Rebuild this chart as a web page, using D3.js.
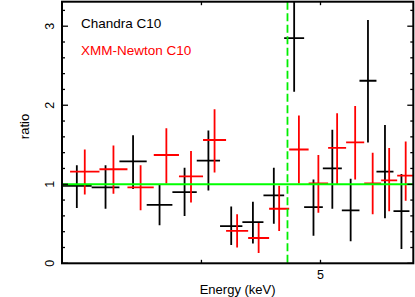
<!DOCTYPE html>
<html>
<head>
<meta charset="utf-8">
<script src="https://cdn.jsdelivr.net/npm/d3@7"></script>
<style>
  body { margin: 0; background: #fff; }
  svg { display: block; font-family: "Liberation Sans", Arial, sans-serif; }
</style>
</head>
<body>
<script>
// bins: [energy low, energy high, ratio, ratio err low, ratio err high]
const chandraBins = [
  [3.08, 3.256, 0.98, 0.70, 1.24],
  [3.256, 3.430, 0.96, 0.69, 1.24],
  [3.430, 3.610, 1.29, 0.94, 1.62],
  [3.610, 3.788, 0.74, 0.48, 1.00],
  [3.788, 3.965, 0.90, 0.60, 1.21],
  [3.965, 4.142, 1.30, 0.92, 1.68],
  [4.142, 4.319, 0.47, 0.23, 0.72],
  [4.319, 4.493, 0.52, 0.25, 0.78],
  [4.493, 4.671, 0.86, 0.50, 1.21],
  [4.671, 4.849, 2.85, 2.17, 3.60],
  [4.849, 5.022, 0.71, 0.35, 1.06],
  [5.022, 5.204, 1.20, 0.69, 1.69],
  [5.204, 5.379, 0.67, 0.28, 1.07],
  [5.379, 5.553, 2.31, 1.53, 3.08],
  [5.553, 5.733, 1.16, 0.57, 1.75],
  [5.733, 5.907, 0.66, 0.18, 1.13]
];
const xmmBins = [
  [3.127, 3.304, 1.16, 0.87, 1.44],
  [3.304, 3.482, 1.19, 0.88, 1.49],
  [3.482, 3.658, 0.96, 0.67, 1.24],
  [3.658, 3.835, 1.37, 1.01, 1.71],
  [3.835, 4.012, 1.10, 0.77, 1.42],
  [4.012, 4.189, 1.56, 1.15, 1.95],
  [4.189, 4.366, 0.41, 0.20, 0.62],
  [4.366, 4.541, 0.32, 0.13, 0.51],
  [4.541, 4.715, 0.69, 0.41, 0.98],
  [4.715, 4.890, 1.44, 1.01, 1.87],
  [4.890, 5.072, 1.01, 0.64, 1.37],
  [5.072, 5.246, 1.46, 1.00, 1.90],
  [5.246, 5.427, 1.53, 1.06, 1.99],
  [5.427, 5.602, 1.01, 0.62, 1.40],
  [5.602, 5.773, 1.05, 0.66, 1.46],
  [5.773, 5.96, 1.11, 0.79, 1.54]
];
const seriesNames = ["Chandra C10", "XMM-Newton C10"];
const seriesColors = ["#000000", "#ff0000"];
const xTicks = [4, 5];
const xTickLabels = ["", "5"];
const yTicks = [0, 1, 2, 3];
const lineEnergy = 4.7;
const refRatio = 1;

const W = 415, H = 297;
const m = {left: 62, right: 1.7, top: 1.7, bottom: 33.7};
const w = W - m.left - m.right, h = H - m.top - m.bottom;

const x = d3.scaleLog().domain([3.08, 5.95]).range([0, w]);
const y = d3.scaleLinear().domain([0, 3.31]).range([h, 0]);

const svg = d3.select("body").append("svg")
  .attr("width", W).attr("height", H);
const g = svg.append("g").attr("transform", "translate(" + m.left + "," + m.top + ")");

g.append("clipPath").attr("id", "clip")
  .append("rect").attr("width", w).attr("height", h);

const plot = g.append("g").attr("clip-path", "url(#clip)");

// error crosses
[chandraBins, xmmBins].forEach(function(bins, i) {
  const s = plot.append("g")
    .attr("stroke", seriesColors[i])
    .attr("stroke-width", 1.8);
  s.selectAll("line.h").data(bins).enter().append("line")
    .attr("x1", d => x(d[0])).attr("x2", d => x(d[1]))
    .attr("y1", d => y(d[2])).attr("y2", d => y(d[2]));
  s.selectAll("line.v").data(bins).enter().append("line")
    .attr("x1", d => x(Math.sqrt(d[0] * d[1])))
    .attr("x2", d => x(Math.sqrt(d[0] * d[1])))
    .attr("y1", d => y(d[3])).attr("y2", d => y(d[4]));
});

// model ratio line and line energy marker
plot.append("line")
  .attr("x1", 0).attr("x2", w)
  .attr("y1", y(refRatio)).attr("y2", y(refRatio))
  .attr("stroke", "#00ff00").attr("stroke-width", 1.8);
plot.append("line")
  .attr("x1", x(lineEnergy)).attr("x2", x(lineEnergy))
  .attr("y1", 0).attr("y2", h)
  .attr("stroke", "#00ee00").attr("stroke-width", 1.8)
  .attr("stroke-dasharray", "8,3.5");

// frame
g.append("rect").attr("width", w).attr("height", h)
  .attr("fill", "none").attr("stroke", "#000").attr("stroke-width", 2);

// y ticks, both sides, inward
const yMinor = d3.range(0, 3.31, 0.2).filter(v => Math.abs(v - Math.round(v)) > 0.01);
const tk = g.append("g").attr("stroke", "#000").attr("stroke-width", 1.3);
yTicks.forEach(function(v) {
  tk.append("line").attr("x1", 0).attr("x2", 6).attr("y1", y(v)).attr("y2", y(v));
  tk.append("line").attr("x1", w).attr("x2", w - 6).attr("y1", y(v)).attr("y2", y(v));
});
yMinor.forEach(function(v) {
  tk.append("line").attr("x1", 0).attr("x2", 3).attr("y1", y(v)).attr("y2", y(v));
  tk.append("line").attr("x1", w).attr("x2", w - 3).attr("y1", y(v)).attr("y2", y(v));
});
xTicks.forEach(function(v) {
  tk.append("line").attr("x1", x(v)).attr("x2", x(v)).attr("y1", h).attr("y2", h - 3.5);
  tk.append("line").attr("x1", x(v)).attr("x2", x(v)).attr("y1", 0).attr("y2", 3.5);
});

// tick labels
yTicks.forEach(function(v) {
  g.append("text")
    .attr("transform", "translate(-8," + y(v) + ") rotate(-90)")
    .attr("text-anchor", "middle")
    .attr("font-size", 12.5)
    .text(v);
});
xTicks.forEach(function(v, i) {
  g.append("text")
    .attr("x", x(v)).attr("y", h + 16)
    .attr("text-anchor", "middle")
    .attr("font-size", 12.5)
    .text(xTickLabels[i]);
});

// axis titles
g.append("text")
  .attr("x", w / 2).attr("y", h + 31)
  .attr("text-anchor", "middle")
  .attr("font-size", 13)
  .text("Energy (keV)");
g.append("text")
  .attr("transform", "translate(-33," + (h / 2 - 6) + ") rotate(-90)")
  .attr("text-anchor", "middle")
  .attr("font-size", 13)
  .text("ratio");

// legend
seriesNames.forEach(function(name, i) {
  g.append("text")
    .attr("x", 19).attr("y", 26.5 + i * 27)
    .attr("font-size", 13.5)
    .attr("fill", seriesColors[i])
    .text(name);
});
</script>
</body>
</html>
